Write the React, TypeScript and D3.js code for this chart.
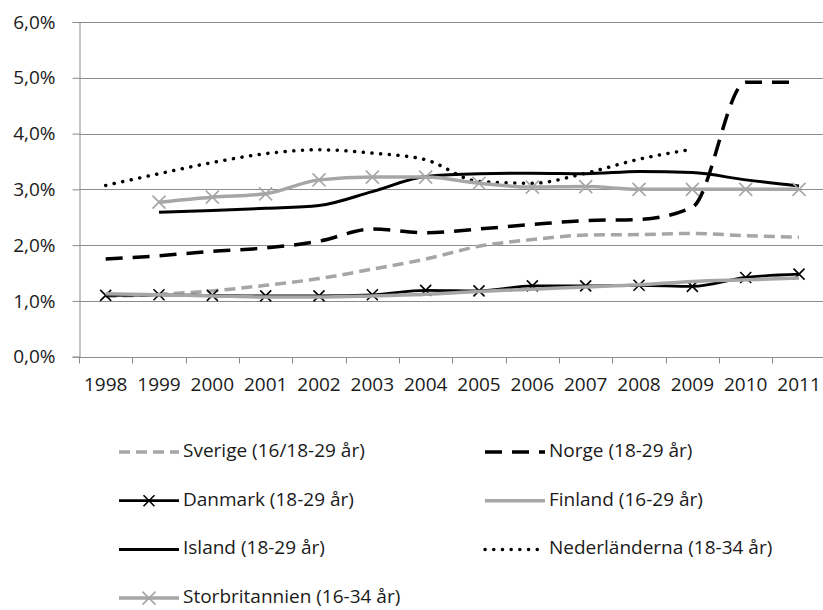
import { useRef, useEffect } from 'react';
import * as d3 from 'd3';

const years = ['1998', '1999', '2000', '2001', '2002', '2003', '2004', '2005', '2006', '2007', '2008', '2009', '2010', '2011'];

// values in percent, null = no data for that year
const sverige = [1.08, 1.12, 1.18, 1.28, 1.4, 1.57, 1.75, 1.98, 2.1, 2.18, 2.19, 2.21, 2.17, 2.14];
const norge = [1.75, 1.81, 1.89, 1.95, 2.07, 2.29, 2.22, 2.29, 2.37, 2.44, 2.46, 2.68, 4.92, 4.92];
const danmark = [1.1, 1.11, 1.1, 1.09, 1.09, 1.11, 1.19, 1.18, 1.27, 1.27, 1.28, 1.26, 1.42, 1.48];
const finland = [1.13, 1.11, 1.09, 1.07, 1.07, 1.09, 1.12, 1.17, 1.21, 1.25, 1.29, 1.35, 1.38, 1.41];
const island = [null, 2.59, 2.62, 2.66, 2.71, 2.96, 3.23, 3.28, 3.29, 3.28, 3.32, 3.3, 3.17, 3.06];
const nederlanderna = [3.07, 3.28, 3.48, 3.64, 3.71, 3.65, 3.53, 3.14, 3.11, 3.29, 3.54, 3.72, null, null];
const storbritannien = [null, 2.77, 2.86, 2.92, 3.17, 3.22, 3.22, 3.11, 3.04, 3.05, 3.0, 3.0, 3.0, 3.0];

const yTicks = [0, 1, 2, 3, 4, 5, 6];

interface Series {
  name: string;
  values: (number | null)[];
  color: string;
  width: number;
  dash?: string;
  cap?: string;
  marker?: boolean;
  markerSize?: number;
}

const series: Series[] = [
  { name: 'Sverige (16/18-29 år)', values: sverige, color: '#a6a6a6', width: 3.5, dash: '11 6' },
  { name: 'Norge (18-29 år)', values: norge, color: '#000', width: 3.5, dash: '17 10' },
  { name: 'Danmark (18-29 år)', values: danmark, color: '#000', width: 2.75, marker: true, markerSize: 5.5 },
  { name: 'Finland (16-29 år)', values: finland, color: '#a6a6a6', width: 3.5 },
  { name: 'Island (18-29 år)', values: island, color: '#000', width: 3 },
  { name: 'Nederländerna (18-34 år)', values: nederlanderna, color: '#000', width: 3.5, dash: '0.1 8.6', cap: 'round' },
  { name: 'Storbritannien (16-34 år)', values: storbritannien, color: '#a6a6a6', width: 3.5, marker: true, markerSize: 6.5 },
];

const W = 823;
const H = 610;
const FONT = '"Open Sans", sans-serif';
const FS = 19;

export default function App() {
  const svgRef = useRef<SVGSVGElement>(null);

  useEffect(() => {
    if (!svgRef.current) return;
    const svg = d3.select(svgRef.current);
    svg.selectAll('*').remove();

    const x = d3.scaleBand().domain(years).range([79, 825.7]);
    const y = d3.scaleLinear().domain([0, 6]).range([356.7, 22]);
    const cx = (yr: string) => (x(yr) || 0) + x.bandwidth() / 2;

    // gridlines
    svg.append('g')
      .selectAll('line')
      .data(yTicks.slice(1))
      .join('line')
      .attr('x1', 79)
      .attr('x2', 826)
      .attr('y1', (d) => Math.round(y(d)) + 0.5)
      .attr('y2', (d) => Math.round(y(d)) + 0.5)
      .attr('stroke', '#8c8c8c')
      .attr('stroke-width', 1);

    // y axis
    const yAxis = svg.append('g')
      .attr('transform', 'translate(79.5,0)')
      .call(d3.axisLeft(y).tickValues(yTicks).tickSize(7).tickPadding(17)
        .tickFormat((d) => d3.format('.1f')(d as number).replace('.', ',') + '%'));
    yAxis.select('.domain').attr('stroke', '#8c8c8c');
    yAxis.selectAll('.tick line').attr('stroke', '#8c8c8c');
    yAxis.selectAll('.tick text')
      .attr('font-family', FONT)
      .attr('font-size', FS)
      .attr('fill', '#1a1a1a');

    // x axis: ticks at category boundaries
    const xg = svg.append('g').attr('transform', `translate(0,${Math.round(y(0)) + 0.5})`);
    xg.append('line').attr('x1', 79).attr('x2', 826).attr('stroke', '#8c8c8c');
    xg.selectAll('.tk')
      .data(years)
      .join('line')
      .attr('class', 'tk')
      .attr('x1', (d) => Math.round(x(d) || 0) + 0.5)
      .attr('x2', (d) => Math.round(x(d) || 0) + 0.5)
      .attr('y1', 0)
      .attr('y2', 6)
      .attr('stroke', '#8c8c8c');
    xg.selectAll('.lbl')
      .data(years)
      .join('text')
      .attr('class', 'lbl')
      .attr('x', (d) => cx(d))
      .attr('y', 28)
      .attr('text-anchor', 'middle')
      .attr('dominant-baseline', 'middle')
      .attr('font-family', FONT)
      .attr('font-size', FS)
      .attr('fill', '#1a1a1a')
      .text((d) => d);

    const line = d3.line<{ yr: string; v: number | null }>()
      .defined((d) => d.v !== null)
      .x((d) => cx(d.yr))
      .y((d) => y(d.v as number))
      .curve(d3.curveMonotoneX);

    const xMark = (sel: any, s: Series) => {
      const r = s.markerSize || 5;
      sel.append('path')
        .attr('d', `M${-r},${-r}L${r},${r}M${-r},${r}L${r},${-r}`)
        .attr('stroke', s.color)
        .attr('stroke-width', 1.6)
        .attr('fill', 'none');
    };

    series.forEach((s) => {
      const pts = years.map((yr, i) => ({ yr, v: s.values[i] }));
      svg.append('path')
        .datum(pts)
        .attr('d', line)
        .attr('fill', 'none')
        .attr('stroke', s.color)
        .attr('stroke-width', s.width)
        .attr('stroke-dasharray', s.dash || null)
        .attr('stroke-linecap', s.cap || 'butt')
        .attr('stroke-linejoin', 'round');
      if (s.marker) {
        pts.filter((p) => p.v !== null).forEach((p) => {
          const g = svg.append('g').attr('transform', `translate(${cx(p.yr)},${y(p.v as number)})`);
          xMark(g, s);
        });
      }
    });

    // legend, two columns
    const rowY = (i: number) => 452 + Math.floor(i / 2) * 48.7;
    const colX = [119, 485];
    series.forEach((s, i) => {
      const lx = colX[i % 2];
      const ly = rowY(i);
      const g = svg.append('g');
      g.append('line')
        .attr('x1', lx)
        .attr('x2', lx + 60)
        .attr('y1', ly)
        .attr('y2', ly)
        .attr('stroke', s.color)
        .attr('stroke-width', s.width)
        .attr('stroke-dasharray', s.dash || null)
        .attr('stroke-linecap', s.cap || 'butt');
      if (s.marker) {
        const m = g.append('g').attr('transform', `translate(${lx + 30},${ly})`);
        xMark(m, s);
      }
      g.append('text')
        .attr('x', lx + 64)
        .attr('y', ly)
        .attr('dominant-baseline', 'middle')
        .attr('font-family', FONT)
        .attr('font-size', FS)
        .attr('fill', '#1a1a1a')
        .text(s.name);
    });
  }, []);

  return (
    <svg
      ref={svgRef}
      width={W}
      height={H}
      viewBox={`0 0 ${W} ${H}`}
      style={{ position: 'absolute', left: 0, top: 0, background: '#fff' }}
    />
  );
}
